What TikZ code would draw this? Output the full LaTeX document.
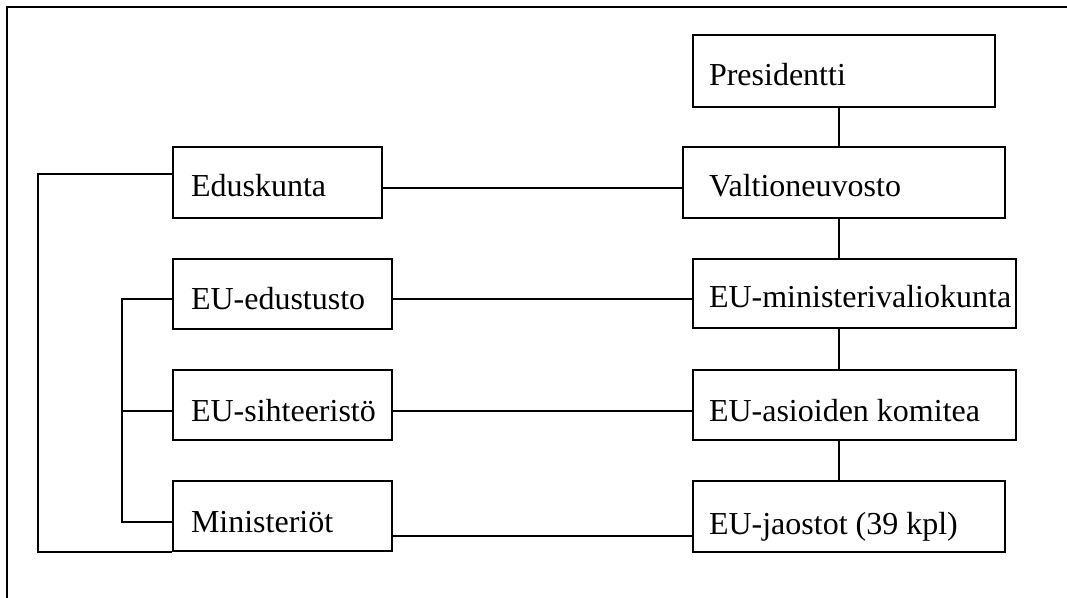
\documentclass[tikz,border=0pt]{standalone}
\usepackage{fontspec}
\setmainfont{Liberation Serif}
% box label: fixed width, left-aligned text after an indent
\newcommand{\orglabel}[3]{\makebox[#1][l]{\hspace*{#2}#3}}
\begin{document}
\begin{tikzpicture}[x=1pt,y=-1pt,line width=1.5pt,
  org/.style={draw=black, line width=1.5pt, rectangle, inner sep=0pt,
    font=\fontsize{32}{38}\selectfont,
    text height=28pt, text depth=0pt},
  link/.style={draw=black, line width=1.5pt}]
  \useasboundingbox (0,0) rectangle (1067,597);
  \clip (0,0) rectangle (1067,597);
  \fill[white] (0,0) rectangle (1067,597);

  % page frame
  \draw (7,7) rectangle (1090,620);

  % right column: government bodies
  \node[org, minimum height=72pt] (pres) at (844,71) {\orglabel{302pt}{16pt}{Presidentti}};
  \node[org, minimum height=71pt] (valt) at (844,182.5) {\orglabel{322pt}{26pt}{Valtioneuvosto}};
  \node[org, minimum height=69pt] (minv) at (854.5,293.5) {\orglabel{323pt}{16pt}{EU-ministerivaliokunta}};
  \node[org, minimum height=70pt, text height=32pt] (asio) at (854.5,405) {\orglabel{323pt}{16pt}{EU-asioiden komitea}};
  \node[org, minimum height=71pt, text height=36pt] (jaos) at (849,516.5) {\orglabel{312pt}{16pt}{EU-jaostot (39 kpl)}};

  % left column
  \node[org, minimum height=71pt] (edus) at (277.5,182.5) {\orglabel{209pt}{18pt}{Eduskunta}};
  \node[org, minimum height=70pt, text height=30pt] (edust) at (282.5,294) {\orglabel{219pt}{18pt}{EU-edustusto}};
  \node[org, minimum height=70pt, text height=32pt] (siht) at (282.5,405) {\orglabel{219pt}{18pt}{EU-sihteeristö}};
  \node[org, minimum height=70pt, text height=32pt] (mini) at (282.5,516) {\orglabel{219pt}{18pt}{Ministeriöt}};

  % helper coordinates for connector lines
  \coordinate (spine) at (839,0);
  \coordinate (inner) at (122,0);
  \coordinate (outer) at (38,0);
  \coordinate (r1) at (0,188);
  \coordinate (r2) at (0,299);
  \coordinate (r3) at (0,411);
  \coordinate (r4) at (0,536);
  \coordinate (q1) at (0,174);
  \coordinate (q4) at (0,522);

  % vertical chain on the right
  \draw[link] (pres.south -| spine) -- (valt.north -| spine);
  \draw[link] (valt.south -| spine) -- (minv.north -| spine);
  \draw[link] (minv.south -| spine) -- (asio.north -| spine);
  \draw[link] (asio.south -| spine) -- (jaos.north -| spine);

  % horizontal links between columns
  \draw[link] (edus.east |- r1) -- (valt.west |- r1);
  \draw[link] (edust.east |- r2) -- (minv.west |- r2);
  \draw[link] (siht.east |- r3) -- (asio.west |- r3);
  \draw[link] (mini.east |- r4) -- (jaos.west |- r4);

  % inner bracket
  \draw[link] (edust.west |- r2) -- (inner |- r2) -- (inner |- q4) -- (mini.west |- q4);
  \draw[link] (siht.west |- r3) -- (inner |- r3);

  % outer bracket
  \draw[link] (edus.west |- q1) -- (outer |- q1) -- (outer |- mini.south) -- (mini.south west);
\end{tikzpicture}
\end{document}
